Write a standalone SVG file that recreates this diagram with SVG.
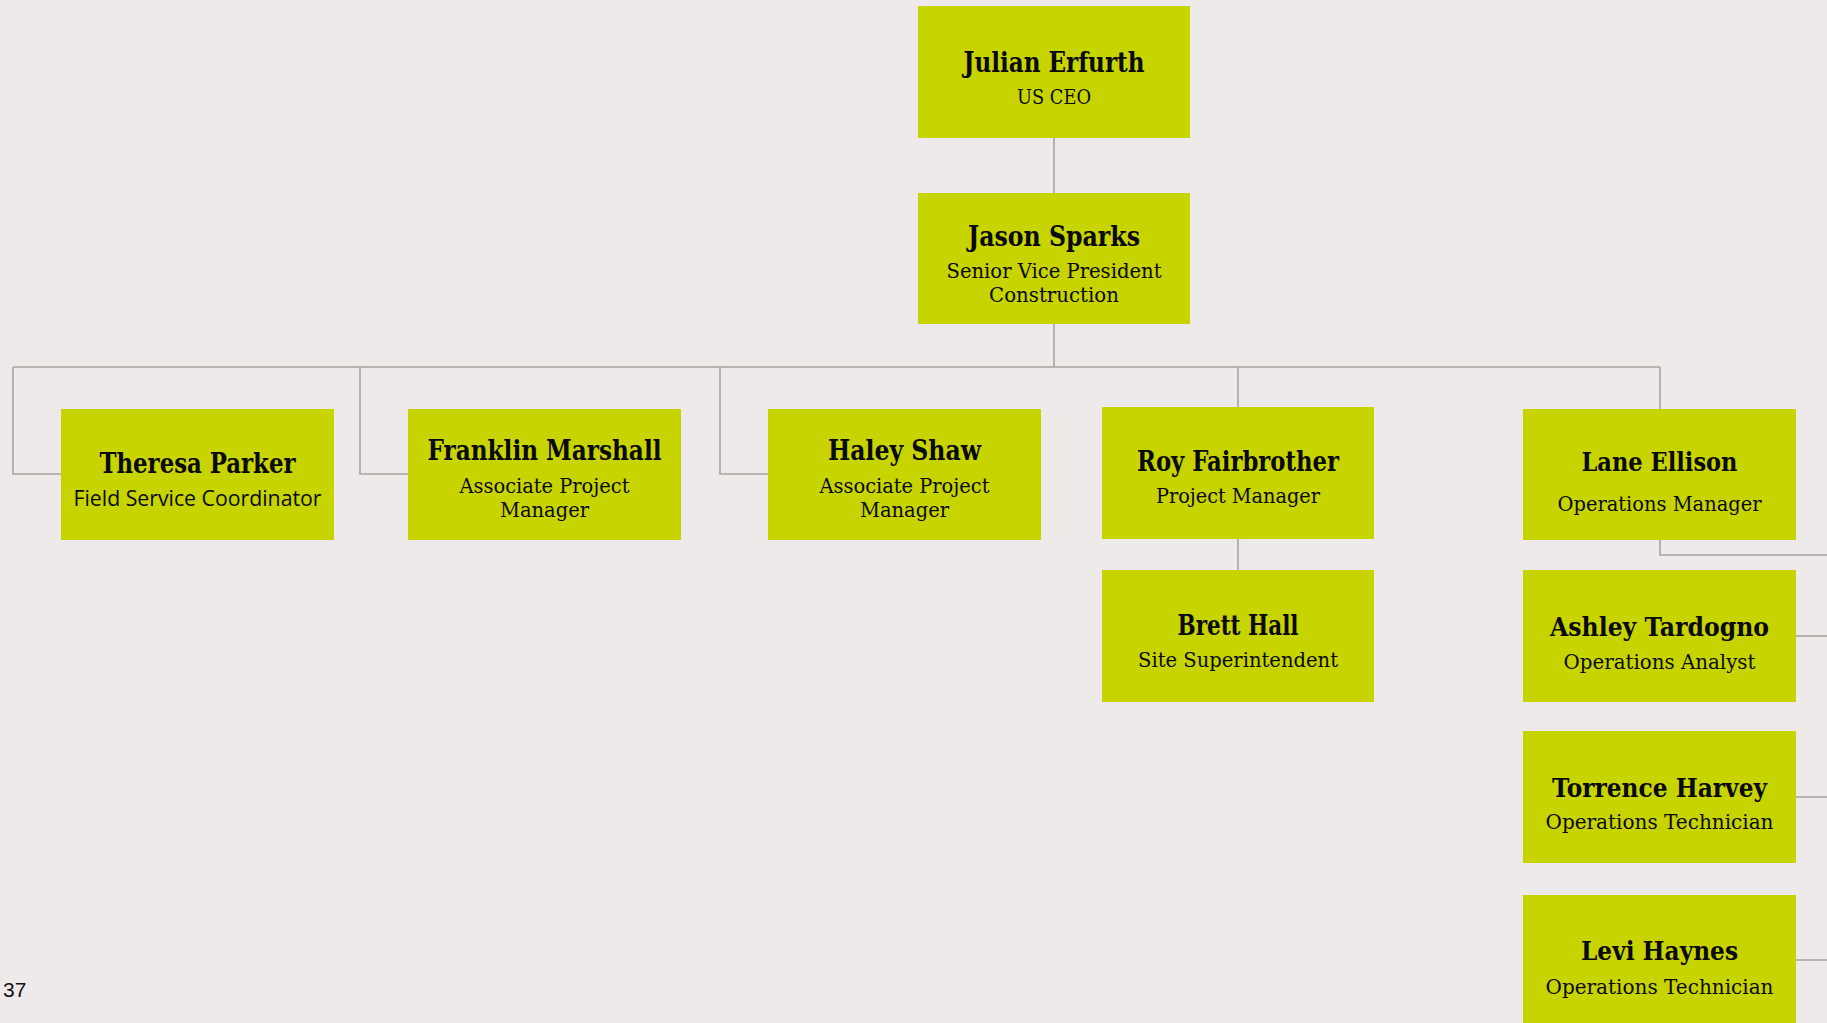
<svg xmlns="http://www.w3.org/2000/svg" width="1827" height="1023" viewBox="0 0 1827 1023">
<style>
.box{fill:#c8d400}
.n{font-family:"DejaVu Serif Condensed","DejaVu Serif",serif;font-weight:bold;font-size:27px;fill:#0a0a0a;text-anchor:middle}
.s{font-family:"DejaVu Serif Condensed","DejaVu Serif",serif;font-size:21px;fill:#0a0a0a;text-anchor:middle}
.nw{font-family:"DejaVu Serif",serif;font-weight:bold;font-size:26px;fill:#0a0a0a;text-anchor:middle}
.sw{font-family:"DejaVu Serif",serif;font-size:20px;fill:#0a0a0a;text-anchor:middle}
.os{font-family:"Open Sans",sans-serif;font-size:21px;fill:#0a0a0a;text-anchor:middle}
.c{fill:none;stroke:#aaa29e;stroke-width:1.6}
</style>
<rect width="1827" height="1023" fill="#eeeae9"/>
<g id="connectors">
<path class="c" d="M1054,138 V193"/>
<path class="c" d="M1054,324 V367"/>
<path class="c" d="M13,367 H1660"/>
<path class="c" d="M13,367 V474 H61"/>
<path class="c" d="M360,367 V474 H408"/>
<path class="c" d="M720,367 V474 H768"/>
<path class="c" d="M1238,367 V407"/>
<path class="c" d="M1238,539 V570"/>
<path class="c" d="M1660,367 V409"/>
<path class="c" d="M1660,540 V555 H1827"/>
<path class="c" d="M1796,636 H1827"/>
<path class="c" d="M1796,797 H1827"/>
<path class="c" d="M1796,960 H1827"/>
</g>
<g id="julian">
<rect class="box" x="918" y="6" width="272" height="132"/>
<text class="n" x="1054" y="72" textLength="181" lengthAdjust="spacingAndGlyphs">Julian Erfurth</text>
<text class="s" x="1054" y="104" textLength="74" lengthAdjust="spacingAndGlyphs">US CEO</text>
</g>
<g id="jason">
<rect class="box" x="918" y="193" width="272" height="131"/>
<text class="n" x="1054" y="246" textLength="172" lengthAdjust="spacingAndGlyphs">Jason Sparks</text>
<text class="s" x="1054" y="278" textLength="215" lengthAdjust="spacingAndGlyphs">Senior Vice President</text>
<text class="s" x="1054" y="302" textLength="130" lengthAdjust="spacingAndGlyphs">Construction</text>
</g>
<g id="theresa">
<rect class="box" x="61" y="409" width="273" height="131"/>
<text class="n" x="197.5" y="473" textLength="196" lengthAdjust="spacingAndGlyphs">Theresa Parker</text>
<text class="os" x="197.5" y="506" textLength="248" lengthAdjust="spacingAndGlyphs">Field Service Coordinator</text>
</g>
<g id="franklin">
<rect class="box" x="408" y="409" width="273" height="131"/>
<text class="n" x="544.5" y="460" textLength="234" lengthAdjust="spacingAndGlyphs">Franklin Marshall</text>
<text class="s" x="544.5" y="493" textLength="170" lengthAdjust="spacingAndGlyphs">Associate Project</text>
<text class="s" x="544.5" y="517" textLength="89" lengthAdjust="spacingAndGlyphs">Manager</text>
</g>
<g id="haley">
<rect class="box" x="768" y="409" width="273" height="131"/>
<text class="n" x="904.5" y="460" textLength="153" lengthAdjust="spacingAndGlyphs">Haley Shaw</text>
<text class="s" x="904.5" y="493" textLength="170" lengthAdjust="spacingAndGlyphs">Associate Project</text>
<text class="s" x="904.5" y="517" textLength="89" lengthAdjust="spacingAndGlyphs">Manager</text>
</g>
<g id="roy">
<rect class="box" x="1102" y="407" width="272" height="132"/>
<text class="n" x="1238" y="471" textLength="202" lengthAdjust="spacingAndGlyphs">Roy Fairbrother</text>
<text class="s" x="1238" y="503" textLength="164" lengthAdjust="spacingAndGlyphs">Project Manager</text>
</g>
<g id="brett">
<rect class="box" x="1102" y="570" width="272" height="132"/>
<text class="n" x="1238" y="635" textLength="121" lengthAdjust="spacingAndGlyphs">Brett Hall</text>
<text class="s" x="1238" y="667" textLength="200" lengthAdjust="spacingAndGlyphs">Site Superintendent</text>
</g>
<g id="lane">
<rect class="box" x="1523" y="409" width="273" height="131"/>
<text class="nw" x="1659.5" y="471" textLength="156" lengthAdjust="spacingAndGlyphs">Lane Ellison</text>
<text class="sw" x="1659.5" y="511" textLength="204" lengthAdjust="spacingAndGlyphs">Operations Manager</text>
</g>
<g id="ashley">
<rect class="box" x="1523" y="570" width="273" height="132"/>
<text class="nw" x="1659.5" y="636" textLength="219" lengthAdjust="spacingAndGlyphs">Ashley Tardogno</text>
<text class="sw" x="1659.5" y="669" textLength="192" lengthAdjust="spacingAndGlyphs">Operations Analyst</text>
</g>
<g id="torrence">
<rect class="box" x="1523" y="731" width="273" height="132"/>
<text class="nw" x="1659.5" y="797" textLength="215" lengthAdjust="spacingAndGlyphs">Torrence Harvey</text>
<text class="sw" x="1659.5" y="829" textLength="228" lengthAdjust="spacingAndGlyphs">Operations Technician</text>
</g>
<g id="levi">
<rect class="box" x="1523" y="895" width="273" height="140"/>
<text class="nw" x="1659.5" y="960" textLength="157" lengthAdjust="spacingAndGlyphs">Levi Haynes</text>
<text class="sw" x="1659.5" y="994" textLength="228" lengthAdjust="spacingAndGlyphs">Operations Technician</text>
</g>
<text x="3" y="997" font-family="Liberation Sans, Arial, sans-serif" font-size="21" fill="#111">37</text>
</svg>
